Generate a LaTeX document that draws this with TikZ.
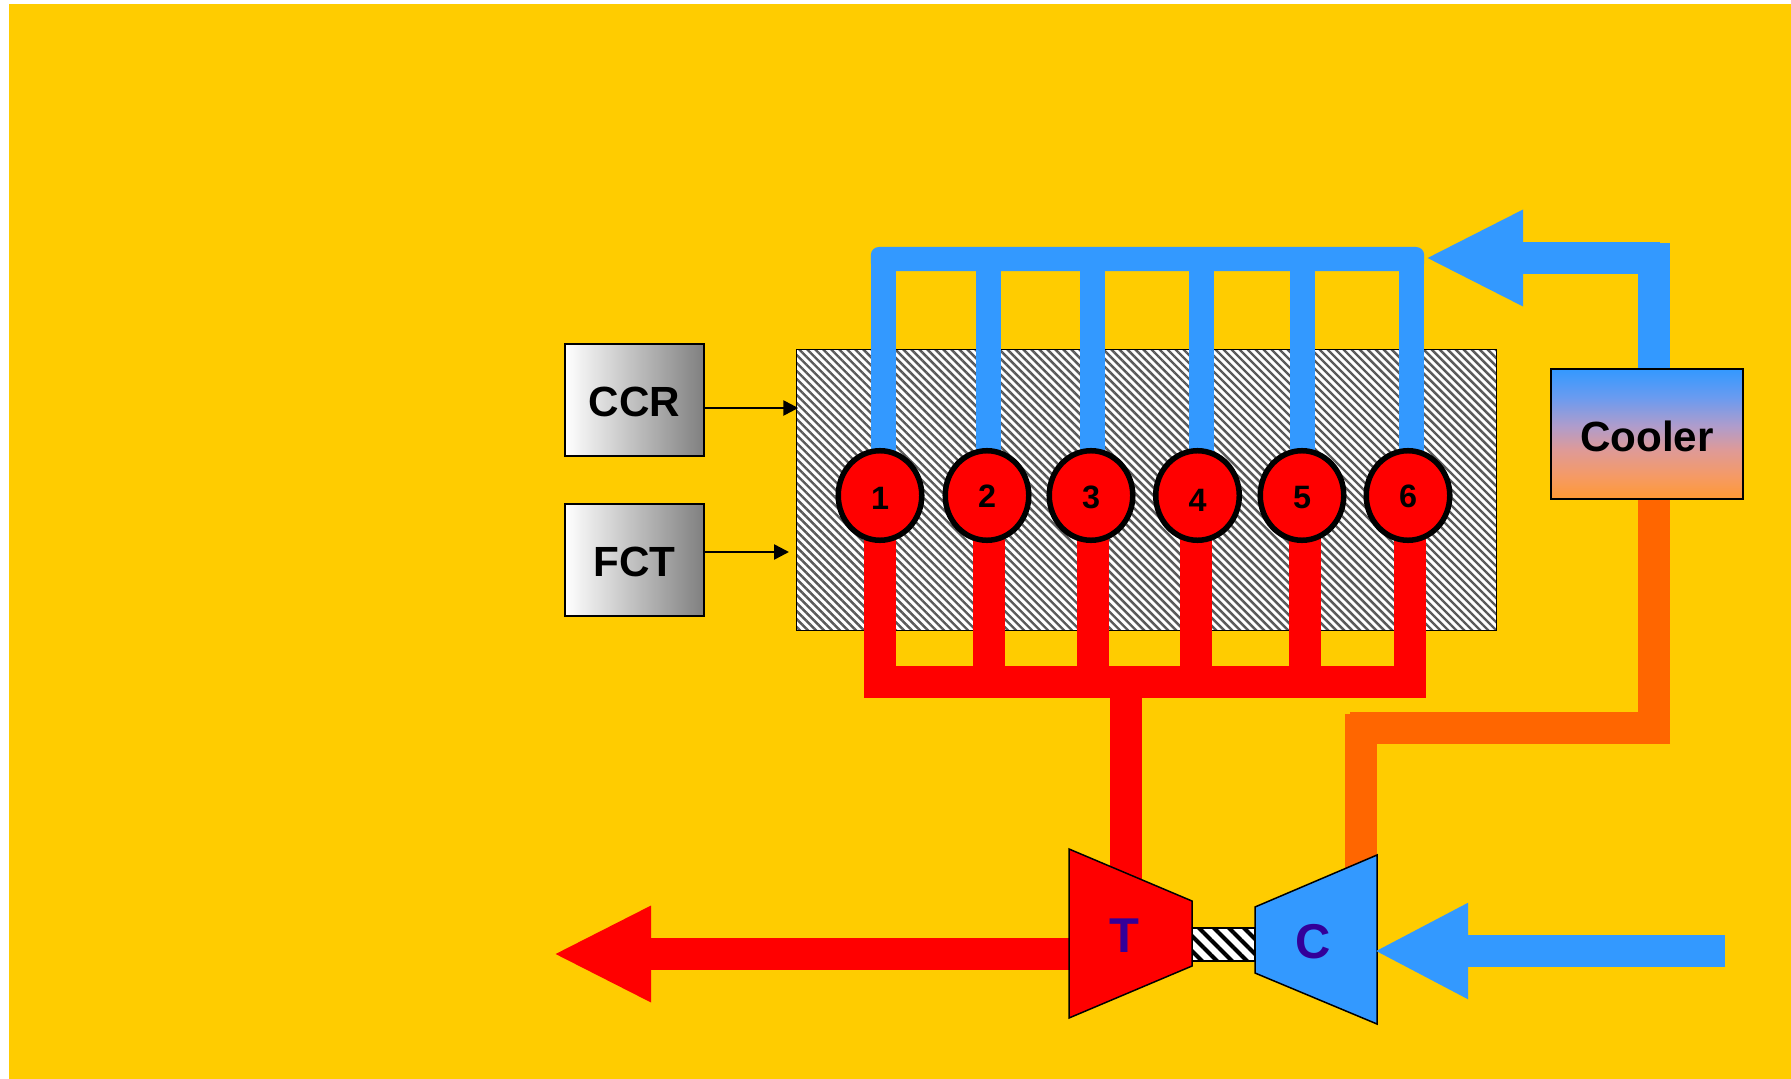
\documentclass[tikz,border=0pt]{standalone}
\usepackage{fontspec}
\setmainfont{Liberation Sans}
\definecolor{plantyellow}{RGB}{255, 204, 0}
\definecolor{coldblue}{RGB}{51, 153, 255}
\definecolor{hotred}{RGB}{255, 0, 0}
\definecolor{warmorange}{RGB}{255, 102, 0}
\definecolor{machineink}{RGB}{51, 0, 153}
\definecolor{fadeone}{rgb}{1,0.6,0.2}
\definecolor{fadetwo}{rgb}{0.96,0.604,0.4}
\definecolor{fadethree}{rgb}{0.87,0.604,0.596}
\definecolor{fadefour}{rgb}{0.69,0.612,0.796}
\definecolor{fadefive}{rgb}{0.416,0.608,0.941}
\usetikzlibrary{arrows.meta, positioning, calc, shapes.geometric, patterns.meta, backgrounds}
\pgfdeclareverticalshading{coolerfade}{100bp}{color(0bp)=(fadeone); color(25bp)=(fadeone); color(34bp)=(fadetwo); color(44bp)=(fadethree); color(53bp)=(fadefour); color(64bp)=(fadefive); color(75bp)=(coldblue); color(100bp)=(coldblue)}
\tikzset{
    ctrlbox/.style={draw=black, line width=0.015cm, left color=white, right color=black!50, minimum width=1.39cm, minimum height=1.12cm, inner sep=0pt, outer sep=0pt, text height=0.33cm, text depth=0pt, font=\bfseries\fontsize{12pt}{14pt}\selectfont},
    cylinder/.style={ellipse, draw=black, line width=0.055cm, fill=hotred, minimum width=0.835cm, minimum height=0.895cm, inner sep=0pt, outer sep=0pt, text depth=0pt, font=\bfseries\fontsize{9.2pt}{10pt}\selectfont},
    bluepipe/.style={draw=coldblue, line width=0.25cm},
    redpipe/.style={draw=hotred, line width=0.32cm},
    orangepipe/.style={draw=warmorange, line width=0.32cm},
    signal/.style={-{Triangle[length=0.15cm, width=0.15cm]}, draw=black, line width=0.025cm},
    bigflow/.style={-{Triangle[length=#1, width=0.89cm]}},
    machine/.style={draw=black, line width=0.015cm, line join=miter},
    machinetext/.style={text=machineink, font=\bfseries\fontsize{13.9pt}{16pt}\selectfont}
}
\begin{document}
\begin{tikzpicture}[x=0.01cm, y=-0.01cm]
    \useasboundingbox (0,0) rectangle (1791,1079);

    \node[ctrlbox] (ccr) at (634.5,400) {CCR};
    \node[ctrlbox] (fct) at (634.5,560) {FCT};
    \node[draw=black, line width=0.015cm, minimum width=1.92cm, minimum height=1.30cm, inner sep=0pt, outer sep=0pt, shading=coolerfade, text height=0.34cm, text depth=0pt, font=\bfseries\fontsize{12pt}{14pt}\selectfont] (cooler) at (1647,434) {Cooler};

    \foreach \n/\cx/\texth in {1/880/0.28, 2/987/0.232, 3/1091/0.25, 4/1197.5/0.32, 5/1302/0.25, 6/1408/0.232}
        \node[cylinder, text height=\texth cm] (cyl\n) at (\cx,495.5) {\n};

    \node[draw=black, line width=0.02cm, minimum width=0.63cm, minimum height=0.33cm, inner sep=0pt, outer sep=0pt, preaction={fill=white}, pattern={Lines[angle=-45, distance=0.106cm, line width=0.04cm]}] (shaft) at (1223.5,944.5) {};

    \draw[machine, fill=hotred] (1069,849) -- (1192,901) -- (1192,966) -- (1069,1018) -- cycle;
    \node[machinetext] (turbine) at (1124,936) {T};
    \draw[machine, fill=coldblue] (1255,907) -- (1377,855) -- (1377,1024) -- (1255,973) -- cycle;
    \node[machinetext] (compressor) at (1313,942) {C};

    \begin{scope}[on background layer]
        \fill[plantyellow] (9,4) rectangle (1791,1079);
        \node[draw=black, line width=0.01cm, minimum width=7.00cm, minimum height=2.81cm, inner sep=0pt, outer sep=0pt, preaction={fill=white}, pattern={Lines[angle=-45, distance=0.05657cm, line width=0.024cm]}, pattern color=black!65] (block) at (1146.5,490) {};

        \node[fill=coldblue, rounded corners=0.08cm, minimum width=5.53cm, minimum height=0.24cm, inner sep=0pt, outer sep=0pt] (manifold) at (1147.5,259) {};
        \foreach \n/\dx in {1/0.035, 2/0.01, 3/0.01, 4/0.04, 5/0, 6/0.035}
            \draw[bluepipe] ([xshift=\dx cm]cyl\n.center) -- ([xshift=\dx cm]cyl\n.center |- manifold.center);

        \foreach \n/\dx in {1/0, 2/0.02, 3/0.02, 4/-0.015, 5/0.03, 6/0.02}
            \draw[redpipe] ([xshift=\dx cm]cyl\n.center) -- ++(0,186.5);
        \coordinate (redleft) at (864,682);
        \coordinate (redright) at (1426,682);
        \draw[redpipe] (redleft) -- (redright);
        \coordinate (stemtop) at (1126,682);
        \draw[redpipe] (stemtop) -- (stemtop |- turbine.north);

        \coordinate (orangecorner) at (1654,744);
        \coordinate (orangeright) at (1670,728);
        \coordinate (orangeleft) at (1350,728);
        \coordinate (orangestem) at (1361,714);
        \draw[orangepipe] (cooler.south -| orangecorner) -- (orangecorner);
        \draw[orangepipe] (orangeright) -- (orangeleft);
        \draw[orangepipe] (orangestem) -- (orangestem |- compressor.north);

        \coordinate (returntop) at (1654,243);
        \draw[draw=coldblue, line width=0.32cm] (cooler.north -| returntop) -- (returntop);
    \end{scope}

    \coordinate (returnstart) at (1660,258);
    \coordinate (returntip) at (1425,258);
    \draw[bigflow=0.98cm, coldblue, line width=0.31cm] (returnstart) -- (returntip);

    \coordinate (exhauststart) at (1069,954);
    \coordinate (exhausttip) at (553,954);
    \begin{scope}[on background layer]
        \draw[bigflow=0.98cm, hotred, line width=0.32cm] (exhauststart) -- (exhausttip);
    \end{scope}

    \coordinate (inletstart) at (1725,951);
    \coordinate (inlettip) at (1374,951);
    \draw[bigflow=0.94cm, coldblue, line width=0.32cm] (inletstart) -- (inlettip);

    \coordinate (ccrsignal) at (704,408);
    \coordinate (fctsignal) at (704,552);
    \coordinate (fctend) at (789,552);
    \draw[signal] (ccrsignal) -- ([xshift=0.02cm]block.west |- ccrsignal);
    \draw[signal] (fctsignal) -- (fctend);
\end{tikzpicture}
\end{document}
